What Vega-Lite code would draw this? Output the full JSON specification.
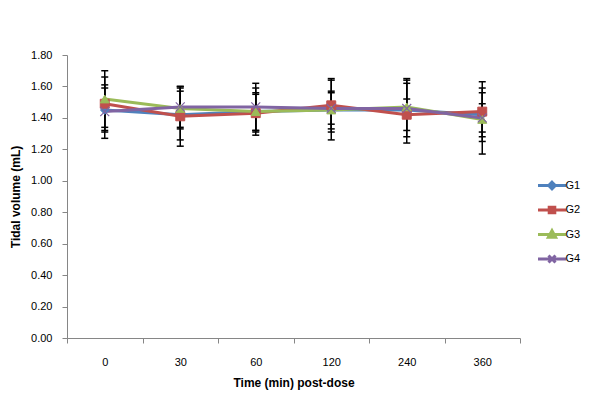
{
  "$schema": "https://vega.github.io/schema/vega-lite/v6.json",
  "width": 453,
  "height": 283,
  "autosize": {"type": "none"},
  "padding": {"left": 67, "top": 55, "right": 77, "bottom": 66},
  "background": "white",
  "config": {
    "view": {"stroke": null},
    "font": "Liberation Sans",
    "axis": {
      "domainColor": "#868686",
      "tickColor": "#868686",
      "domainWidth": 1,
      "tickWidth": 1,
      "tickSize": 5,
      "labelFont": "Liberation Sans",
      "labelFontSize": 11,
      "labelColor": "#000000",
      "labelOverlap": false,
      "titleFont": "Liberation Sans",
      "titleFontSize": 12,
      "titleFontWeight": "bold",
      "titleColor": "#000000",
      "grid": false
    },
    "axisY": {"values": [0, 0.2, 0.4, 0.6, 0.8, 1.0, 1.2, 1.4, 1.6, 1.8], "format": ".2f", "labelPadding": 10, "titlePadding": 8}
  },
  "data": {
    "values": [
      {"time": 0, "group": "G1", "mean": 1.45, "lo": 1.31, "hi": 1.59},
      {"time": 0, "group": "G2", "mean": 1.49, "lo": 1.32, "hi": 1.66},
      {"time": 0, "group": "G3", "mean": 1.52, "lo": 1.34, "hi": 1.70},
      {"time": 0, "group": "G4", "mean": 1.44, "lo": 1.27, "hi": 1.61},
      {"time": 30, "group": "G1", "mean": 1.42, "lo": 1.26, "hi": 1.57},
      {"time": 30, "group": "G2", "mean": 1.41, "lo": 1.22, "hi": 1.60},
      {"time": 30, "group": "G3", "mean": 1.46, "lo": 1.33, "hi": 1.59},
      {"time": 30, "group": "G4", "mean": 1.47, "lo": 1.34, "hi": 1.60},
      {"time": 60, "group": "G1", "mean": 1.44, "lo": 1.29, "hi": 1.59},
      {"time": 60, "group": "G2", "mean": 1.43, "lo": 1.31, "hi": 1.55},
      {"time": 60, "group": "G3", "mean": 1.44, "lo": 1.32, "hi": 1.56},
      {"time": 60, "group": "G4", "mean": 1.47, "lo": 1.32, "hi": 1.62},
      {"time": 120, "group": "G1", "mean": 1.45, "lo": 1.26, "hi": 1.64},
      {"time": 120, "group": "G2", "mean": 1.48, "lo": 1.31, "hi": 1.65},
      {"time": 120, "group": "G3", "mean": 1.45, "lo": 1.33, "hi": 1.57},
      {"time": 120, "group": "G4", "mean": 1.46, "lo": 1.36, "hi": 1.56},
      {"time": 240, "group": "G1", "mean": 1.45, "lo": 1.28, "hi": 1.65},
      {"time": 240, "group": "G2", "mean": 1.42, "lo": 1.24, "hi": 1.64},
      {"time": 240, "group": "G3", "mean": 1.47, "lo": 1.32, "hi": 1.62},
      {"time": 240, "group": "G4", "mean": 1.46, "lo": 1.40, "hi": 1.52},
      {"time": 360, "group": "G1", "mean": 1.42, "lo": 1.28, "hi": 1.56},
      {"time": 360, "group": "G2", "mean": 1.44, "lo": 1.25, "hi": 1.63},
      {"time": 360, "group": "G3", "mean": 1.39, "lo": 1.17, "hi": 1.59},
      {"time": 360, "group": "G4", "mean": 1.40, "lo": 1.31, "hi": 1.49}
    ]
  },
  "encoding": {
    "x": {
      "field": "time",
      "type": "ordinal",
      "sort": [0, 30, 60, 120, 240, 360],
      "bandPosition": 0.5,
      "scale": {"type": "band", "paddingInner": 0, "paddingOuter": 0},
      "title": "Time (min) post-dose",
      "axis": {"labelAngle": 0, "tickBand": "extent", "labelPadding": 13, "titlePadding": 10}
    }
  },
  "layer": [
    {
      "mark": {"type": "rule", "color": "#000000", "strokeWidth": 1.5},
      "encoding": {
        "y": {"field": "lo", "type": "quantitative", "scale": {"domain": [0, 1.8]}, "title": "Tidal volume (mL)"},
        "y2": {"field": "hi"}
      }
    },
    {
      "mark": {"type": "tick", "color": "#000000", "size": 7, "thickness": 1.5, "opacity": 1},
      "encoding": {
        "y": {"field": "lo", "type": "quantitative", "title": "Tidal volume (mL)"}
      }
    },
    {
      "mark": {"type": "tick", "color": "#000000", "size": 7, "thickness": 1.5, "opacity": 1},
      "encoding": {
        "y": {"field": "hi", "type": "quantitative", "title": "Tidal volume (mL)"}
      }
    },
    {
      "mark": {"type": "line", "strokeWidth": 3},
      "encoding": {
        "y": {"field": "mean", "type": "quantitative", "title": "Tidal volume (mL)"},
        "color": {
          "field": "group",
          "type": "nominal",
          "scale": {"domain": ["G1", "G2", "G3", "G4"], "range": ["#4F81BD", "#C0504D", "#9BBB59", "#8064A2"]},
          "legend": {
            "title": null,
            "orient": "none",
            "legendX": 473.5,
            "legendY": 119,
            "padding": 0,
            "rowPadding": 3.5,
            "labelFont": "Liberation Sans",
            "labelFontSize": 11,
            "labelColor": "#000000",
            "labelOffset": 2,
            "symbolSize": 400,
            "symbolStrokeWidth": 3,
            "encode": {
              "symbols": {
                "update": {
                  "shape": {"signal": "datum.value === 'G1' ? 'M-1.4,0H1.4M0,-0.33L0.33,0L0,0.33L-0.33,0Z' : datum.value === 'G2' ? 'M-1.4,0H1.4M-0.28,-0.28H0.28V0.28H-0.28Z' : datum.value === 'G3' ? 'M-1.4,0H1.4M0,-0.38L0.36,0.28H-0.36Z' : 'M-1.4,0H1.4M-0.35,-0.35L0.35,0.35M-0.35,0.35L0.35,-0.35'"},
                  "fill": {"signal": "datum.value === 'G1' ? '#4F81BD' : datum.value === 'G2' ? '#C0504D' : datum.value === 'G3' ? '#9BBB59' : 'transparent'"},
                  "opacity": {"value": 1}
                }
              }
            }
          }
        }
      }
    },
    {
      "transform": [{"filter": "datum.group === 'G1'"}],
      "mark": {"type": "point", "shape": "diamond", "filled": true, "size": 75, "strokeWidth": 1, "opacity": 1, "color": "#4F81BD", "stroke": "#4F81BD"},
      "encoding": {"y": {"field": "mean", "type": "quantitative", "title": "Tidal volume (mL)"}}
    },
    {
      "transform": [{"filter": "datum.group === 'G2'"}],
      "mark": {"type": "point", "shape": "square", "filled": true, "size": 80, "strokeWidth": 1, "opacity": 1, "color": "#C0504D", "stroke": "#C0504D"},
      "encoding": {"y": {"field": "mean", "type": "quantitative", "title": "Tidal volume (mL)"}}
    },
    {
      "transform": [{"filter": "datum.group === 'G3'"}],
      "mark": {"type": "point", "shape": "triangle-up", "filled": true, "size": 80, "strokeWidth": 1, "opacity": 1, "color": "#9BBB59", "stroke": "#9BBB59"},
      "encoding": {"y": {"field": "mean", "type": "quantitative", "title": "Tidal volume (mL)"}}
    },
    {
      "transform": [{"filter": "datum.group === 'G4'"}],
      "mark": {"type": "point", "shape": "M-1,-1L1,1M-1,1L1,-1", "filled": false, "size": 80, "strokeWidth": 1.2, "opacity": 1, "color": "#8064A2"},
      "encoding": {"y": {"field": "mean", "type": "quantitative", "title": "Tidal volume (mL)"}}
    }
  ]
}
